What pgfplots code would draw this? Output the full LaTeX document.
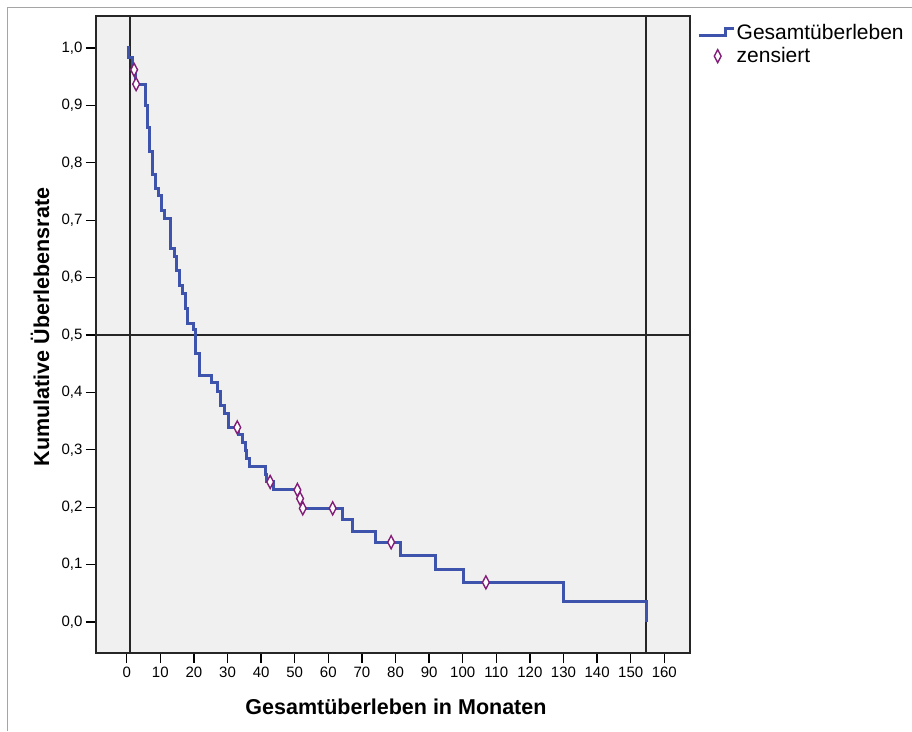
\documentclass[border=0pt]{standalone}
\usepackage{pgfplots}
\pgfplotsset{compat=1.18}
\usepackage{fontspec}
\setmainfont{Liberation Sans}
\definecolor{survBlue}{RGB}{62,84,172}
\definecolor{censPurple}{RGB}{130,30,120}
\definecolor{plotBg}{RGB}{240,240,240}
\definecolor{frameGray}{RGB}{165,165,165}

\begin{document}
\begin{tikzpicture}[x=1pt,y=1pt]
\path[use as bounding box] (0,0) rectangle (912,731);
\draw[frameGray, line width=1.5pt] (7.5,0) -- (7.5,723.5) -- (912,723.5);
\begin{axis}[
  at={(96pt,78pt)}, anchor=south west,
  scale only axis, width=594pt, height=637pt,
  xmin=-9.14, xmax=167.65, ymin=-0.054, ymax=1.0557,
  xtick={0,10,...,160}, ytick={0,0.1,...,1.0},
  tick align=outside, xtick pos=bottom, ytick pos=left,
  major tick length=10pt,
  tick style={black, line width=1.3pt},
  axis line style={black!85, line width=1.4pt},
  axis background/.style={fill=plotBg},
  /pgf/number format/assume math mode=true,
  tick label style={font=\fontsize{15}{18}\selectfont},
  yticklabel style={/pgf/number format/.cd, fixed, fixed zerofill, precision=1, use comma},
  xticklabel style={/pgf/number format/.cd, fixed, precision=0},
  every axis x label/.style={at={(rel axis cs:0.505,-0.0848)}, anchor=center},
  every axis y label/.style={at={(rel axis cs:-0.0943,0.512)}, anchor=center, rotate=90},
  label style={font=\fontsize{21.5}{24}\selectfont\bfseries},
  xlabel={Gesamtüberleben in Monaten},
  ylabel={Kumulative Überlebensrate},
  legend style={at={(rel axis cs:1.0118,0.990)}, anchor=north west, draw=none, fill=none,
    font=\fontsize{21}{23}\selectfont, inner sep=0pt, row sep=4pt,
    nodes={inner sep=1.5pt}},
  legend cell align=left,
  clip=true,
]
% reference lines
\addplot[black!85, line width=1.5pt, forget plot] coordinates {(1,-0.054) (1,1.0557)};
\addplot[black!85, line width=1.5pt, forget plot] coordinates {(154.6,-0.054) (154.6,1.0557)};
\addplot[black!85, line width=1.5pt, forget plot] coordinates {(-9.14,0.5) (167.65,0.5)};
% survival curve
\addplot[survBlue, line width=3pt, const plot, line join=miter,
  legend image code/.code={\draw[survBlue, line width=3pt] (0pt,-3.5pt) -- (27pt,-3.5pt) -- (27pt,3.5pt) -- (35pt,3.5pt);}]
coordinates {
(0,1.0) (0.6,0.984) (1.6,0.962) (2.5,0.937) (5.5,0.899) (6.2,0.861)
(6.7,0.820) (7.6,0.780) (8.6,0.756) (9.4,0.743) (10.3,0.716) (11.1,0.703)
(13.0,0.651) (14.2,0.636) (14.9,0.613) (15.7,0.587) (16.7,0.573) (17.4,0.547)
(18.1,0.520) (19.8,0.509) (20.4,0.468) (21.6,0.430) (25.3,0.417) (27.1,0.401)
(27.9,0.377) (29.0,0.364) (30.2,0.339) (33.2,0.326) (34.5,0.312) (35.4,0.298)
(35.7,0.285) (36.5,0.271) (41.2,0.257) (41.5,0.244) (43.6,0.230) (51.2,0.215)
(52.0,0.198) (64.3,0.178) (67.3,0.158) (73.9,0.139) (81.5,0.115) (91.8,0.092)
(100.2,0.069) (129.9,0.035) (154.6,0.0)
};
\addlegendentry{Gesamtüberleben}
% censored
\addplot[only marks, mark=diamond*, mark size=6.5pt,
  mark options={xscale=0.7, fill=white, draw=censPurple, line width=1.4pt},
  legend image code/.code={\path (0pt,-3.5pt) (35pt,3.5pt);
    \draw[censPurple, mark=diamond*, mark size=6.5pt, mark options={xscale=0.7, fill=white, draw=censPurple, line width=1.4pt}] plot coordinates {(19pt,0pt)};}]
coordinates {
(2.2,0.962) (2.8,0.937) (32.9,0.339) (42.7,0.244) (50.8,0.230)
(51.6,0.215) (52.4,0.198) (61.3,0.198) (78.7,0.139) (106.9,0.069)
};
\addlegendentry{zensiert}
\end{axis}
\end{tikzpicture}
\end{document}
